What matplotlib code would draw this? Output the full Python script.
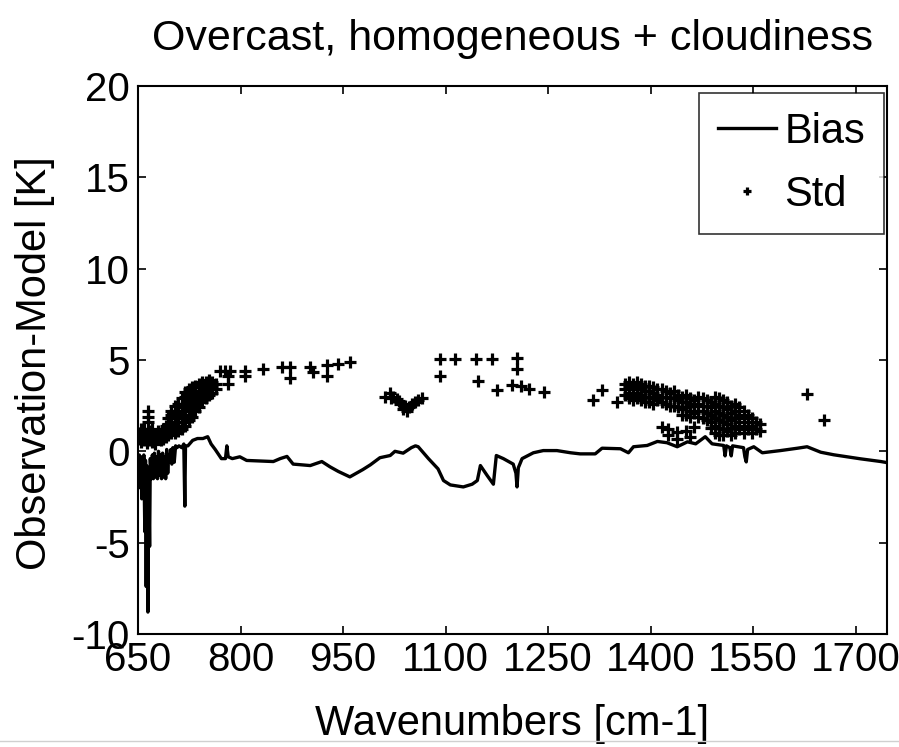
import numpy as np
import matplotlib
matplotlib.use("Agg")
import matplotlib.pyplot as plt
from matplotlib.lines import Line2D

plt.rcParams['font.family'] = ['Liberation Sans', 'DejaVu Sans']
plt.rcParams['axes.unicode_minus'] = False

# bias line (wavenumber, K)
bias_wn = [650.0, 651.0, 652.0, 653.5, 654.5, 655.5, 656.5, 657.5, 658.5, 660.0,
           661.0, 662.0, 663.0, 664.5, 665.5, 667.0, 668.0, 669.5, 671.0, 672.5,
           674.0, 675.5, 677.0, 678.5, 680.0, 681.5, 683.0, 684.5, 686.0, 687.5,
           689.0, 690.5, 692.0, 693.5, 695.0, 696.5, 698.0, 699.5, 701.0, 703.0,
           705.0, 707.0, 710.0, 714.0, 717.0, 718.5, 719.5, 723.0, 730.0, 737.0,
           745.0, 752.0, 757.0, 763.0, 772.0, 778.0, 780.0, 782.0, 788.0,
           799.0, 809.0, 848.0, 858.0, 868.0, 877.0, 902.0, 919.0, 931.0, 943.0,
           960.0, 979.0, 990.0, 1004.0, 1019.0, 1026.0, 1038.0, 1050.0, 1056.0, 1060.0,
           1075.0, 1089.0, 1097.0, 1107.0, 1126.0, 1139.0, 1146.5, 1151.0, 1161.0, 1170.0,
           1174.3, 1184.6, 1199.0, 1203.0, 1204.6, 1206.5, 1212.0, 1228.5, 1243.0, 1263.0,
           1283.0, 1297.0, 1312.0, 1319.0, 1329.0, 1356.0, 1367.6, 1375.0, 1395.0, 1410.0,
           1424.0, 1439.0, 1454.0, 1466.0, 1480.0, 1490.0, 1507.0, 1509.0, 1511.0, 1516.0,
           1518.0, 1520.0, 1536.0, 1538.0, 1540.0, 1542.0, 1551.0, 1563.5, 1590.0, 1615.0,
           1629.0, 1649.0, 1668.0, 1707.0, 1737.0, 1746.0]
bias_val = [-0.3, -2.0, -0.2, -1.2, -0.3, -2.6, -0.4, -1.8, -0.2, -4.4,
            -0.5, -7.4, -0.8, -8.8, -1.0, -5.2, -0.4, -1.5, -0.2, -1.5,
            -0.1, -1.4, -0.3, -1.5, 0.0, -1.3, -0.2, -1.5, -0.1, -1.4,
            -0.3, -1.5, 0.1, -1.2, -0.2, -0.6, 0.1, -0.7, 0.2, -0.6,
            0.3, 0.2, 0.3, 0.2, 0.4, -3.0, 0.3, 0.3, 0.6, 0.7,
            0.7, 0.8, 0.4, 0.1, -0.4, -0.4, 0.3, -0.3, -0.4,
            -0.3, -0.5, -0.56, -0.4, -0.28, -0.7, -0.78, -0.56, -0.85, -1.1,
            -1.4, -1.0, -0.74, -0.35, -0.23, 0.0, -0.1, 0.2, 0.3, 0.25,
            -0.4, -0.96, -1.6, -1.84, -1.95, -1.8, -1.6, -0.78, -1.33, -1.8,
            -0.23, -0.4, -0.7, -1.2, -1.95, -0.9, -0.4, -0.08, 0.04, 0.04,
            -0.08, -0.14, -0.14, -0.14, 0.17, 0.14, -0.08, 0.25, 0.32, 0.54,
            0.47, 0.25, 0.52, 0.41, 0.8, 0.41, 0.32, -0.25, 0.3, 0.2,
            -0.25, 0.3, 0.2, -0.3, -0.58, 0.1, 0.25, -0.08, 0.04, 0.17,
            0.25, -0.05, -0.19, -0.41, -0.56, -0.62]

std_columns = [
    (651, [0.7, 1.0]), (655, [0.5, 0.9, 1.2]), (659, [0.6, 1.2]),
    (663, [0.45, 0.9]), (665, [2.2, 1.9, 1.6]), (667, [0.6, 1.1]),
    (671, [0.5, 0.9, 1.2]), (675, [0.4, 0.8]), (679, [0.8, 1.1]),
    (683, [0.6, 0.9]), (687, [0.7, 1.2]), (691, [0.8, 1.4]),
    (694, [0.9, 1.2, 1.5, 1.8]), (699, [1.0, 1.3, 1.6, 2.0, 2.2]),
    (704, [1.0, 1.4, 1.8, 2.1, 2.5]), (709, [1.1, 1.4, 1.8, 2.2, 2.6]),
    (714, [1.2, 1.6, 2.0, 2.4, 2.9]), (719, [1.4, 1.8, 2.2, 2.6, 3.0, 3.25]),
    (724, [1.7, 2.0, 2.4, 2.8, 3.2, 3.4]), (729, [1.9, 2.3, 2.7, 3.1, 3.5]),
    (734, [2.2, 2.6, 3.0, 3.3, 3.6]), (739, [2.4, 2.8, 3.2, 3.5, 3.7]),
    (744, [2.7, 3.0, 3.3, 3.6, 3.8]), (749, [2.9, 3.2, 3.5, 3.8]),
    (754, [3.1, 3.4, 3.7, 3.9]), (759, [3.2, 3.5, 3.8]), (764, [3.4, 3.7]),
    (770, [4.4]), (777, [4.4]), (782, [4.1, 3.7]), (785, [4.4]),
    (807, [4.4, 4.1]), (833, [4.5]), (861, [4.6]), (873, [4.6, 4.0]),
    (902, [4.6]), (906, [4.35]), (927, [4.7, 4.15]), (943, [4.8]), (960, [4.9]),
    (1012, [3.0]), (1018, [3.2]), (1020, [2.9]), (1023, [3.0]), (1029, [2.85]),
    (1032, [2.75]), (1034, [2.6]), (1038, [2.3]), (1041, [2.5]), (1044, [2.2]),
    (1047, [2.4]), (1051, [2.6]), (1056, [2.7]), (1060, [2.8]), (1066, [2.9]),
    (1092, [5.07, 4.12]), (1114, [5.07]), (1144, [5.07]), (1148, [3.83]),
    (1168, [5.07]), (1175, [3.34]), (1197, [3.65]), (1205, [5.1, 4.5]),
    (1210, [3.58]), (1222, [3.4]), (1244, [3.25]),
    (1316, [2.8]), (1329, [3.34]), (1351, [2.7]),
    (1362, [3.7, 3.4, 3.1]), (1368, [3.8, 3.5, 3.2, 2.9]),
    (1374, [3.7, 3.4, 3.1, 2.8]), (1380, [3.8, 3.5, 3.2, 2.9]),
    (1386, [3.7, 3.4, 3.1, 2.8]), (1392, [3.6, 3.3, 3.0, 2.7]),
    (1398, [3.6, 3.3, 3.0, 2.7]), (1404, [3.5, 3.2, 2.9, 2.6]),
    (1410, [3.4, 3.1, 2.8]), (1416, [3.4, 3.0, 2.7, 1.34]),
    (1422, [3.3, 3.0, 2.6]), (1426, [1.24, 0.9]), (1428, [3.2, 2.9, 2.5]),
    (1434, [3.3, 2.9, 2.5]), (1439, [1.07, 0.7]), (1440, [3.1, 2.8, 2.4]),
    (1446, [3.0, 2.7, 2.3, 2.0]), (1452, [3.1, 2.7, 2.4, 2.0, 1.1]),
    (1458, [2.9, 2.6, 2.2, 1.9, 0.8]), (1464, [2.8, 2.5, 2.1, 1.34]),
    (1470, [3.0, 2.6, 2.2, 1.9]), (1476, [2.9, 2.5, 2.2, 1.8]),
    (1482, [2.8, 2.5, 2.1, 1.7]), (1488, [2.7, 2.4, 2.0, 1.6, 1.3]),
    (1494, [3.0, 2.6, 2.2, 1.8, 1.4, 1.0]), (1500, [2.9, 2.5, 2.1, 1.7, 1.3, 0.9]),
    (1506, [2.8, 2.4, 2.0, 1.6, 1.2, 0.9]), (1512, [2.7, 2.3, 1.9, 1.5, 1.1]),
    (1518, [2.5, 2.1, 1.7, 1.3, 0.9]), (1524, [2.6, 2.2, 1.8, 1.4, 1.0]),
    (1530, [2.4, 2.0, 1.6, 1.2]), (1536, [2.2, 1.8, 1.4, 1.0]),
    (1542, [2.0, 1.6, 1.2]), (1548, [1.8, 1.4, 1.0]), (1554, [1.6, 1.2]),
    (1560, [1.5, 1.1]),
    (1629, [3.15]), (1654, [1.69]),
]
std_wn = [wn for wn, vals in std_columns for v in vals]
std_val = [v for wn, vals in std_columns for v in vals]

xticks = [800, 950, 1100, 1250, 1400, 1550, 1700]
xticklabels = ['800', '950', '1100', '1250', '1400', '1550', '1700']
yticks = [-10, -5, 0, 5, 10, 15, 20]

fs = 30
tfs = 29

fig = plt.figure(figsize=(8.99, 7.47), dpi=100)
ax = fig.add_axes([0.1535, 0.1513, 0.8332, 0.7336])

ax.plot(bias_wn, bias_val, color='black', linewidth=2.4, label='Bias')
ax.plot(std_wn, std_val, linestyle='none', marker='+', markersize=8,
        markeredgewidth=2.3, color='black', label='Std')

ax.set_xlim(650, 1746)
ax.set_ylim(-10, 20)
ax.set_xticks(xticks)
ax.set_xticklabels(xticklabels)
ax.set_yticks(yticks)
ax.tick_params(direction='in', length=6, width=1.2, top=True, right=True,
               labelsize=tfs, pad=6)
ax.tick_params(axis='x', pad=5)
for s in ax.spines.values():
    s.set_linewidth(1.5)

# 650 label sits on the left edge, with no tick mark
ax.annotate('650', xy=(0, 0), xycoords='axes fraction', xytext=(0, -5),
            textcoords='offset points', ha='center', va='top', fontsize=tfs)

ax.set_xlabel('Wavenumbers [cm-1]', fontsize=fs, labelpad=18)
ax.set_ylabel('Observation-Model [K]', fontsize=fs)
ax.yaxis.set_label_coords(-0.111, 0.495)
ax.set_title('Overcast, homogeneous + cloudiness', fontsize=fs + 1, pad=26)

leg = ax.legend(loc='upper right', bbox_to_anchor=(0.9955, 0.987), fontsize=fs,
                frameon=True, fancybox=False, edgecolor='black',
                handlelength=1.4, handletextpad=0.2, borderpad=0.45,
                labelspacing=0.55, markerscale=0.8, borderaxespad=0)
leg.get_frame().set_linewidth(1.2)

# screenshot edge at the bottom
fig.add_artist(Line2D([0, 1], [0.008, 0.008], transform=fig.transFigure,
                      color='#d0d0d0', linewidth=1))

fig.savefig('out.png', dpi=100)
